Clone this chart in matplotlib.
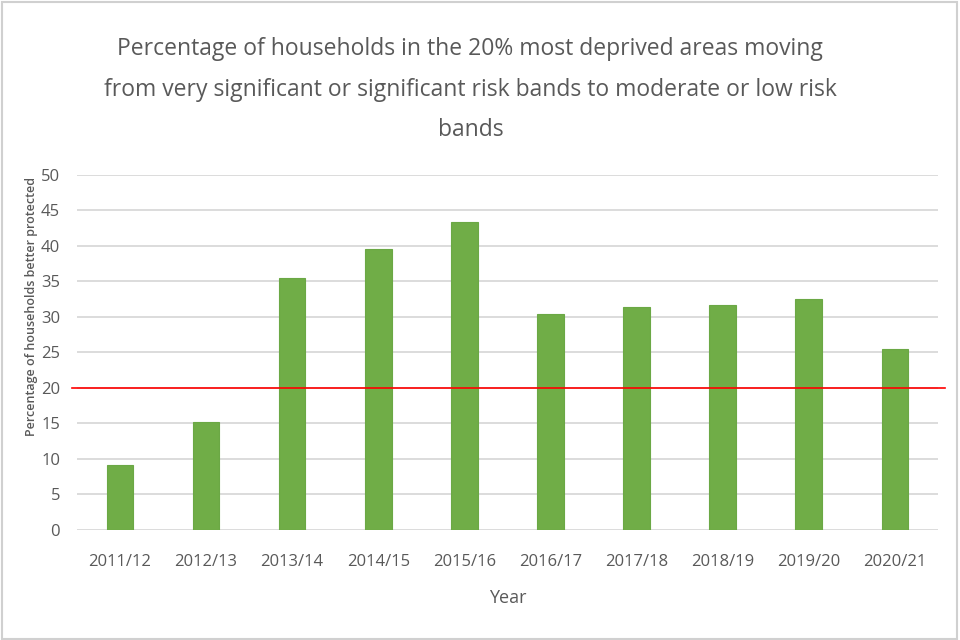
import matplotlib.pyplot as plt
from matplotlib.patches import Rectangle

plt.rcParams['font.family'] = ['Open Sans', 'DejaVu Sans']

years = ['2011/12', '2012/13', '2013/14', '2014/15', '2015/16',
         '2016/17', '2017/18', '2018/19', '2019/20', '2020/21']
pct = [9.1, 15.2, 35.5, 39.6, 43.4, 30.4, 31.4, 31.6, 32.5, 25.4]
target = 20

fig = plt.figure(figsize=(9.6, 6.4), dpi=100)
ax = fig.add_axes([0.080, 0.172, 0.897, 0.555])

ax.bar(range(len(years)), pct, width=0.31, color='#70AD47',
       edgecolor='#6BA845', linewidth=0.8, zorder=3)
ax.set_xlim(-0.5, len(years) - 0.5)
ax.set_ylim(0, 50)
ax.set_yticks(range(0, 51, 5))
ax.set_xticks(range(len(years)))
ax.set_xticklabels(years)
ax.grid(axis='y', color='#D9D9D9', linewidth=1.3, zorder=0)
ax.tick_params(length=0, labelsize=12, colors='#595959')
ax.tick_params(axis='x', pad=17)
ax.tick_params(axis='y', pad=12)
for s in ax.spines.values():
    s.set_visible(False)

# target line sticks out a little past the plot area
ax.plot([-0.55, 9.58], [target, target], color='#FF0000', linewidth=1.2,
        zorder=4, clip_on=False)

ax.set_xlabel('Year', fontsize=13, color='#595959', labelpad=14)
ax.set_ylabel('Percentage of households better protected', fontsize=9,
              color='#595959', fontweight='semibold')
ax.yaxis.set_label_coords(-0.045, 0.63)

fig.text(0.49, 0.942, 'Percentage of households in the 20% most deprived areas moving\n'
         'from very significant or significant risk bands to moderate or low risk\n'
         'bands', ha='center', va='top', fontsize=16.5, color='#595959',
         linespacing=1.92)

fig.patches.append(Rectangle((0.002, 0.002), 0.995, 0.995, transform=fig.transFigure,
                             fill=False, edgecolor='#D0D0D0', linewidth=1.5))

fig.savefig('out.png', dpi=100)
